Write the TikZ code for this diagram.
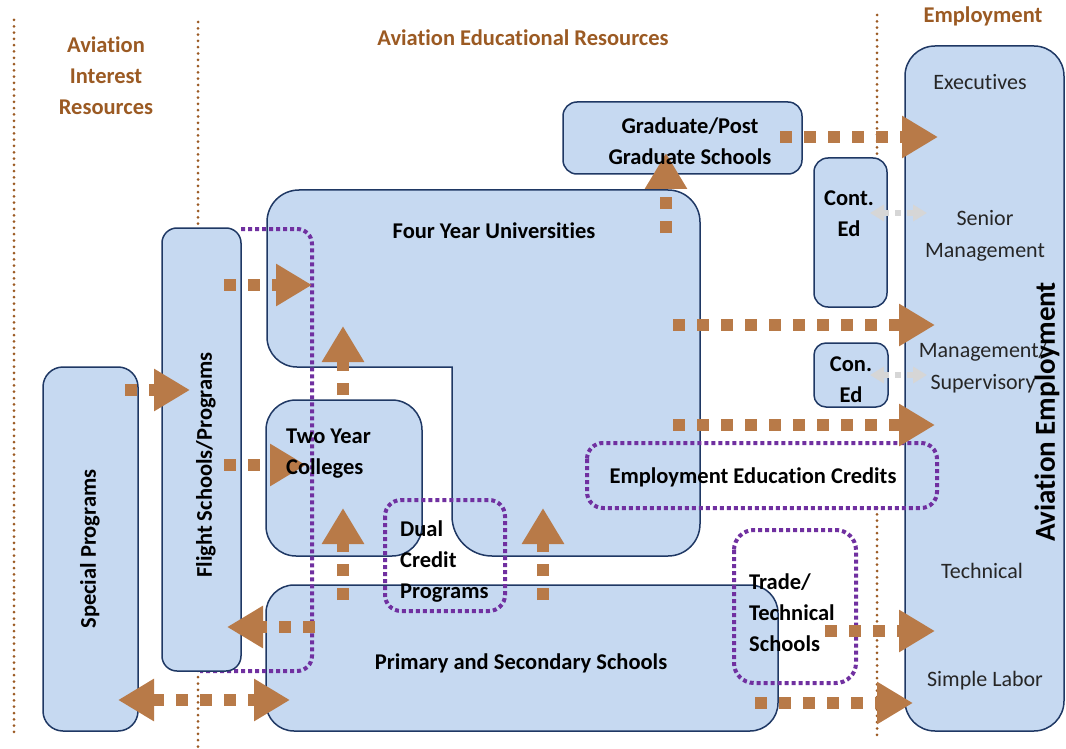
\documentclass[tikz,border=0pt]{standalone}
\usepackage{fontspec}
\setmainfont{Carlito}[Ligatures=NoCommon]
\usetikzlibrary{arrows.meta,calc}
\definecolor{boxfill}{HTML}{C6D9F1}
\definecolor{boxline}{HTML}{1F3864}
\definecolor{hdr}{HTML}{9B5A23}
\definecolor{flowc}{HTML}{B87A48}
\definecolor{purp}{HTML}{7030A0}
\definecolor{lgray}{HTML}{D6D6D6}
\begin{document}
\begin{tikzpicture}[x=1pt,y=-1pt,
  box/.style={draw=boxline, fill=boxfill, line width=1.5pt, inner sep=0pt},
  lbl/.style={font=\fontsize{22.5}{31}\selectfont\bfseries, align=center, inner sep=0pt, text=black},
  emp/.style={font=\fontsize{22}{32}\selectfont, align=center, inner sep=0pt, text=black!85},
  hd/.style={font=\fontsize{22.5}{31}\selectfont\bfseries, align=center, inner sep=0pt, text=hdr},
  sep/.style={draw=hdr, line width=3pt, line cap=round, dash pattern=on 0pt off 6.3pt},
  pdot/.style={draw=purp, line width=4pt, dash pattern=on 4pt off 3pt},
  flow/.style={draw=flowc, line width=12pt, dash pattern=on 12pt off 12pt, -{Triangle[length=36pt,width=40pt]}},
  flow2/.style={draw=flowc, line width=12pt, dash pattern=on 12pt off 12pt, {Triangle[length=36pt,width=40pt]}-{Triangle[length=36pt,width=40pt]}},
  cflow/.style={draw=lgray, line width=6pt, dash pattern=on 6pt off 6pt, {Triangle[length=14pt,width=16pt]}-{Triangle[length=14pt,width=16pt]}}
]
\useasboundingbox (0,0) rectangle (1066,749);

% separators
\coordinate (s1a) at (14,20);  \coordinate (s1b) at (14,735);
\coordinate (s2a) at (198,22); \coordinate (s2b) at (198,749);
\coordinate (s3a) at (877,15); \coordinate (s3b) at (877,158);
\coordinate (s4a) at (877,508); \coordinate (s4b) at (877,735);
\draw[sep] (s1a) -- (s1b);
\draw[sep] (s2a) -- (s2b);
\draw[sep] (s3a) -- (s3b);
\draw[sep] (s4a) -- (s4b);

% headers
\node[hd] (h1) at (106,76) {Aviation\\Interest\\Resources};
\node[hd] (h2) at (523,38) {Aviation Educational Resources};
\node[hd] (h3) at (983,16) {Employment};

% boxes
\node[box, rounded corners=20pt, minimum width=95pt, minimum height=364pt] (special) at (90.5,549) {};
\node[box, rounded corners=14pt, minimum width=239pt, minimum height=72pt] (grad) at (682.5,138) {};
\node[box, rounded corners=14pt, minimum width=73pt, minimum height=149pt] (conted) at (850.5,232.5) {};
\node[box, rounded corners=12pt, minimum width=74pt, minimum height=64pt] (coned) at (851,375) {};
\node[box, rounded corners=30pt, minimum width=159pt, minimum height=685pt] (emp) at (984.5,388.5) {};
\node[box, rounded corners=30pt, minimum width=156pt, minimum height=156pt] (two) at (344,478) {};
\node[box, rounded corners=28pt, minimum width=512pt, minimum height=146pt] (prim) at (522,658) {};
% four year universities (L shape)
\draw[box, rounded corners=32pt] (267,280) -- (267,190) -- (700,190) -- (700,556)
  [rounded corners=40pt] -- (452,556) [sharp corners] -- (452,367) [rounded corners=30pt] -- (267,367) -- cycle;

% purple dotted groups
\draw[pdot, rounded corners=15pt] (241,229) -- (312,229) -- (312,671) -- (200,671);
\draw[pdot, rounded corners=16pt] (385,500) rectangle (505,611);
\draw[pdot, rounded corners=16pt] (587,443) rectangle (937,508);
\draw[pdot, rounded corners=20pt] (734,530) rectangle (856,683);

% flight schools box
\node[box, rounded corners=15pt, minimum width=79pt, minimum height=443pt] (flight) at (201.5,449.5) {};

% flows
\coordinate (a1s) at (125,390);  \coordinate (a1e) at (190,390);
\coordinate (a2s) at (224,285);  \coordinate (a2e) at (312,285);
\coordinate (a3s) at (224,465);  \coordinate (a3e) at (306,465);
\coordinate (a4s) at (315,627);  \coordinate (a4e) at (227,627);
\coordinate (a5s) at (118,700);  \coordinate (a5e) at (290,700);
\coordinate (a6s) at (343,600);  \coordinate (a6e) at (343,508);
\coordinate (a7s) at (343,395);  \coordinate (a7e) at (343,326);
\coordinate (a8s) at (543,600);  \coordinate (a8e) at (543,508);
\coordinate (a9s) at (666,233);  \coordinate (a9e) at (666,153);
\coordinate (b1s) at (780,137);  \coordinate (b1e) at (938,137);
\coordinate (b2s) at (673,325);  \coordinate (b2e) at (935,325);
\coordinate (b3s) at (673,425);  \coordinate (b3e) at (935,425);
\coordinate (b4s) at (825,631);  \coordinate (b4e) at (935,631);
\coordinate (b5s) at (755,703);  \coordinate (b5e) at (913,703);
\coordinate (c1s) at (870,213);  \coordinate (c1e) at (927,213);
\coordinate (c2s) at (870,375);  \coordinate (c2e) at (927,375);
\draw[flow] (a1s) -- (a1e);
\draw[flow] (a2s) -- (a2e);
\draw[flow] (a3s) -- (a3e);
\draw[flow] (a4s) -- (a4e);
\draw[flow2] (a5s) -- (a5e);
\draw[flow] (a6s) -- (a6e);
\draw[flow] (a7s) -- (a7e);
\draw[flow] (a8s) -- (a8e);
\draw[flow] (a9s) -- (a9e);
\draw[flow] (b1s) -- (b1e);
\draw[flow] (b2s) -- (b2e);
\draw[flow] (b3s) -- (b3e);
\draw[flow] (b4s) -- (b4e);
\draw[flow] (b5s) -- (b5e);
\draw[cflow] (c1s) -- (c1e);
\draw[cflow] (c2s) -- (c2e);

% texts
\node[lbl, rotate=90] (tspecial) at (90,549) {Special Programs};
\node[lbl, rotate=90] (tflight) at (206,465) {Flight Schools/Programs};
\node[lbl] (tfour) at (494,231) {Four Year Universities};
\node[lbl] (tgrad) at (690,141) {Graduate/Post\\Graduate Schools};
\node[lbl] (tconted) at (849,214) {Cont.\\Ed};
\node[lbl] (tconed) at (851,380) {Con.\\Ed};
\node[lbl, align=left, anchor=west] (ttwo) at (286,454) {Two Year\\Colleges};
\node[lbl, align=left, anchor=west] (tdual) at (400,562) {Dual\\Credit\\Programs};
\node[lbl] (tprim) at (521,663) {Primary and Secondary Schools};
\node[lbl] (teec) at (753,477) {Employment Education Credits};
\node[lbl, align=left, anchor=west] (ttrade) at (749,613) {Trade/\\Technical\\Schools};

\node[emp] (e1) at (980,82) {Executives};
\node[emp] (e2) at (985,236) {Senior\\Management};
\node[emp] (e3) at (983,368) {Management/\\Supervisory};
\node[emp] (e4) at (982,571) {Technical};
\node[emp] (e5) at (985,681) {Simple Labor};
\node[lbl, rotate=90, font=\fontsize{29}{30}\selectfont\bfseries] (tavemp) at (1047,412) {Aviation Employment};
\end{tikzpicture}
\end{document}
